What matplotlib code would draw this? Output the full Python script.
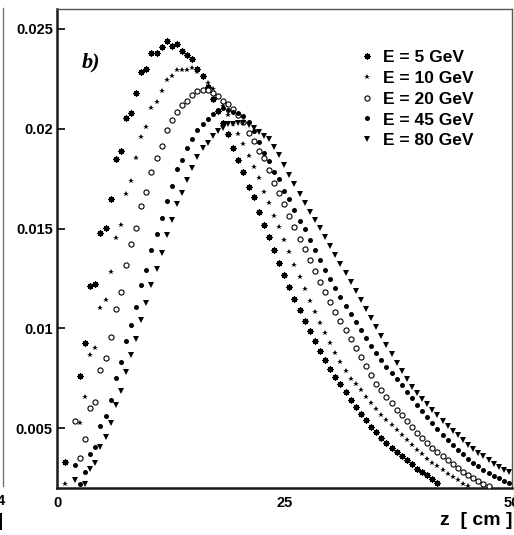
import numpy as np
import matplotlib
matplotlib.use("Agg")
import matplotlib.pyplot as plt
from matplotlib.lines import Line2D

nan = np.nan
N_BINS = 89
BIN_WIDTH_CM = 0.5612  # one radiation length of lead

e5 = [nan, 0.00329, nan, nan, 0.00763, 0.00929, 0.01211, 0.01220, 0.01477, 0.01504,
      0.01649, 0.01847, 0.01888, 0.02055, 0.02080, 0.02181, 0.02283, 0.02298, 0.02378, 0.02378,
      0.02410, 0.02442, 0.02415, 0.02426, 0.02390, 0.02370, 0.02348, 0.02298, 0.02264, 0.02209,
      0.02147, 0.02089, 0.02029, 0.01974, 0.01902, 0.01843, 0.01784, 0.01709, 0.01656, 0.01584,
      0.01519, 0.01458, 0.01392, 0.01328, 0.01266, 0.01206, 0.01146, 0.01091, 0.01036, 0.00985,
      0.00935, 0.00885, 0.00840, 0.00795, 0.00755, 0.00720, 0.00681, 0.00639, 0.00606, 0.00569,
      0.00539, 0.00506, 0.00480, 0.00452, 0.00425, 0.00400, 0.00380, 0.00359, 0.00339, 0.00318,
      0.00297, 0.00280, 0.00263, 0.00247, 0.00227]

e10 = [nan, 0.00218, nan, nan, 0.00528, 0.00656, 0.00867, 0.00900, 0.01102, 0.01144,
       0.01280, 0.01452, 0.01519, 0.01674, 0.01739, 0.01851, 0.01958, 0.02009, 0.02106, 0.02134,
       0.02189, 0.02244, 0.02263, 0.02293, 0.02293, 0.02294, 0.02304, 0.02284, 0.02264, 0.02229,
       0.02199, 0.02159, 0.02114, 0.02069, 0.02024, 0.01972, 0.01926, 0.01863, 0.01806, 0.01751,
       0.01684, 0.01630, 0.01565, 0.01509, 0.01445, 0.01382, 0.01316, 0.01256, 0.01196, 0.01136,
       0.01081, 0.01026, 0.00975, 0.00925, 0.00875, 0.00830, 0.00785, 0.00745, 0.00720, 0.00690,
       0.00657, 0.00626, 0.00594, 0.00568, 0.00539, 0.00514, 0.00489, 0.00464, 0.00439, 0.00414,
       0.00391, 0.00369, 0.00347, 0.00326, 0.00308, 0.00288, 0.00271, 0.00253, 0.00238, 0.00222,
       0.00208]

e20 = [nan, nan, nan, 0.00536, 0.00352, 0.00444, 0.00601, 0.00629, 0.00792, 0.00849,
       0.00955, 0.01098, 0.01183, 0.01318, 0.01422, 0.01502, 0.01612, 0.01682, 0.01785, 0.01852,
       0.01913, 0.01993, 0.02044, 0.02085, 0.02119, 0.02141, 0.02171, 0.02189, 0.02194, 0.02192,
       0.02179, 0.02164, 0.02139, 0.02124, 0.02099, 0.02069, 0.02035, 0.01980, 0.01941, 0.01890,
       0.01852, 0.01791, 0.01729, 0.01678, 0.01621, 0.01562, 0.01506, 0.01450, 0.01397, 0.01342,
       0.01286, 0.01231, 0.01181, 0.01131, 0.01081, 0.01036, 0.00990, 0.00945, 0.00900, 0.00855,
       0.00810, 0.00765, 0.00723, 0.00690, 0.00656, 0.00626, 0.00593, 0.00564, 0.00536, 0.00506,
       0.00477, 0.00452, 0.00425, 0.00402, 0.00380, 0.00359, 0.00339, 0.00318, 0.00300, 0.00280,
       0.00263, 0.00250, 0.00233, 0.00222, 0.00208]

e45 = [nan, nan, nan, 0.00317, 0.00220, 0.00279, 0.00368, 0.00406, 0.00512, 0.00561,
       0.00643, 0.00753, 0.00829, 0.00935, 0.01016, 0.01107, 0.01215, 0.01291, 0.01393, 0.01472,
       0.01554, 0.01639, 0.01711, 0.01799, 0.01845, 0.01902, 0.01949, 0.01992, 0.02024, 0.02050,
       0.02073, 0.02094, 0.02102, 0.02095, 0.02083, 0.02077, 0.02063, 0.02034, 0.01988, 0.01933,
       0.01880, 0.01838, 0.01784, 0.01746, 0.01688, 0.01646, 0.01592, 0.01539, 0.01496, 0.01442,
       0.01392, 0.01342, 0.01291, 0.01246, 0.01201, 0.01156, 0.01113, 0.01071, 0.01031, 0.00990,
       0.00950, 0.00913, 0.00875, 0.00840, 0.00807, 0.00775, 0.00745, 0.00715, 0.00682, 0.00649,
       0.00617, 0.00584, 0.00554, 0.00524, 0.00494, 0.00466, 0.00439, 0.00414, 0.00389, 0.00369,
       0.00347, 0.00326, 0.00308, 0.00292, 0.00276, 0.00261, 0.00248, 0.00236, 0.00223]

e80 = [nan, nan, nan, 0.00242, nan, 0.00218, 0.00294, 0.00326, 0.00405, 0.00458,
       0.00526, 0.00618, 0.00686, 0.00781, 0.00865, 0.00949, 0.01044, 0.01126, 0.01216, 0.01295,
       0.01378, 0.01469, 0.01541, 0.01622, 0.01680, 0.01743, 0.01801, 0.01860, 0.01903, 0.01930,
       0.01966, 0.01987, 0.02004, 0.02024, 0.02026, 0.02027, 0.02027, 0.02019, 0.02004, 0.01983,
       0.01963, 0.01947, 0.01910, 0.01868, 0.01818, 0.01768, 0.01723, 0.01673, 0.01627, 0.01584,
       0.01542, 0.01501, 0.01458, 0.01414, 0.01369, 0.01324, 0.01279, 0.01234, 0.01189, 0.01143,
       0.01098, 0.01053, 0.01008, 0.00963, 0.00918, 0.00873, 0.00828, 0.00785, 0.00745, 0.00706,
       0.00676, 0.00648, 0.00619, 0.00589, 0.00564, 0.00536, 0.00511, 0.00485, 0.00464, 0.00439,
       0.00414, 0.00397, 0.00377, 0.00359, 0.00339, 0.00322, 0.00305, 0.00292, 0.00280]

labels = ["E = 5 GeV", "E = 10 GeV", "E = 20 GeV", "E = 45 GeV", "E = 80 GeV"]
x_ticks = [0, 25, 50]
y_ticks = [0.005, 0.01, 0.015, 0.02, 0.025]
y_ticklabels = ["0.005", "0.01", "0.015", "0.02", "0.025"]


def pad(v):
    v = list(v)[:N_BINS]
    return np.array(v + [nan] * (N_BINS - len(v)), dtype=float)


z = (np.arange(N_BINS) + 0.5) * BIN_WIDTH_CM

plt.rcParams["font.family"] = ["Liberation Sans", "DejaVu Sans"]
plt.rcParams["font.weight"] = "bold"

W, H = 514, 535
fig = plt.figure(figsize=(W / 100, H / 100), dpi=100)
ax = fig.add_axes([57 / W, 47 / H, 455 / W, 479 / H])

styles = [
    dict(marker=(8, 2, 0), ms=4.4, mew=0.9, color="black", mfc="black", mec="black"),
    dict(marker="*", ms=4.2, mew=0, color="black"),
    dict(marker="o", ms=3.7, mew=0.8, mfc="white", mec="black", color="black"),
    dict(marker="o", ms=3.6, mew=0, color="black"),
    dict(marker="v", ms=3.7, mew=0, color="black"),
]

series = [e5, e10, e20, e45, e80]
handles = []
for k, (vals, st, lab) in enumerate(zip(series, styles, labels)):
    y = pad(vals)
    if k == 0:
        ax.plot(z, y, ls="none", marker="s", ms=3.4, mew=0, color="#bdbdbd", zorder=2)
    ax.plot(z, y, ls="none", zorder=3, **st)
    handles.append(Line2D([], [], ls="none", **st))

ax.set_xlim(0, 50)
ax.set_ylim(0.002, 0.026)
ax.set_xticks(x_ticks)
ax.set_xticklabels([str(t) for t in x_ticks])
ax.set_yticks(y_ticks)
ax.set_yticklabels(y_ticklabels)
ax.tick_params(axis="y", direction="in", length=6, width=1.2, pad=3, labelsize=10.5)
ax.tick_params(axis="x", direction="in", length=0, pad=6, labelsize=10.5)
for lab in ax.get_xticklabels() + ax.get_yticklabels():
    lab.set_fontweight("bold")

for s in ["left", "bottom"]:
    ax.spines[s].set_linewidth(1.8)
    ax.spines[s].set_color("#1a1a1a")
for s in ["top", "right"]:
    ax.spines[s].set_linewidth(1.0)
    ax.spines[s].set_color("#555555")

ax.text(1.0, -0.0772, "z  [ cm ]", transform=ax.transAxes, ha="right", va="baseline",
        fontsize=14, fontweight="bold")

ax.text(0.055, 0.877, "b)", transform=ax.transAxes, ha="left", va="baseline",
        fontsize=16, fontweight="bold", style="italic", family="Liberation Serif")

leg = ax.legend(handles, labels, loc="upper left", bbox_to_anchor=(0.6615, 0.915),
                frameon=False, borderpad=0, borderaxespad=0, handlelength=1.0,
                handletextpad=0.45, labelspacing=0.33,
                prop=dict(family="Liberation Sans", weight="bold", size=12.5))

# edge of the neighbouring panel
fig.add_artist(Line2D([2.5 / W, 2.5 / W], [(H - 8) / H, (H - 486) / H],
                      transform=fig.transFigure, color="#777777", lw=1.0))
fig.text(5 / W, (H - 501) / H, "4", ha="right", va="center", fontsize=10.5, fontweight="bold")
fig.text(3 / W, (H - 522) / H, "]", ha="right", va="center", fontsize=13, fontweight="bold")

fig.savefig("out.png", dpi=100)
